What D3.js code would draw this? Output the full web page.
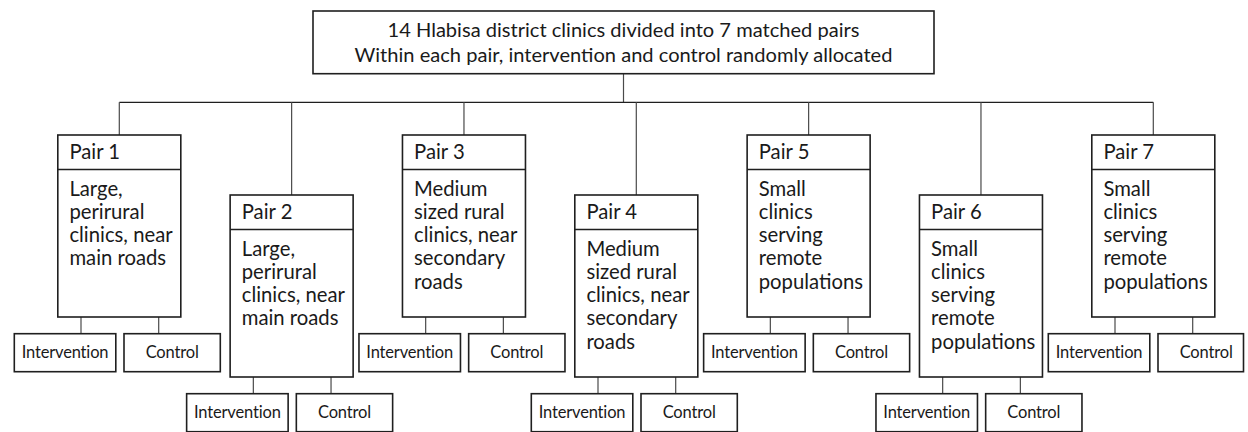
<!DOCTYPE html>
<html>
<head>
<meta charset="utf-8">
<script src="https://cdn.jsdelivr.net/npm/d3@7"></script>
<style>
  html, body { margin: 0; padding: 0; background: #fff; }
  svg { display: block; }
  text { font-family: Lato, "Liberation Sans", sans-serif; fill: #1a1a1a; }
</style>
</head>
<body>
<svg id="chart" width="1248" height="432"></svg>
<script>
// ---- data ----
const titleLines = [
  "14 Hlabisa district clinics divided into 7 matched pairs",
  "Within each pair, intervention and control randomly allocated"
];
const pairs = ["Pair 1", "Pair 2", "Pair 3", "Pair 4", "Pair 5", "Pair 6", "Pair 7"];
const descriptions = [
  ["Large,", "perirural", "clinics, near", "main roads"],
  ["Large,", "perirural", "clinics, near", "main roads"],
  ["Medium", "sized rural", "clinics, near", "secondary", "roads"],
  ["Medium", "sized rural", "clinics, near", "secondary", "roads"],
  ["Small", "clinics", "serving", "remote", "populations"],
  ["Small", "clinics", "serving", "remote", "populations"],
  ["Small", "clinics", "serving", "remote", "populations"]
];
const tiers = [0, 1, 0, 1, 0, 1, 0];   // staggered rows
const arms = ["Intervention", "Control"];

// ---- layout ----
const W = 1248, H = 432;
const svg = d3.select("#chart");

const x = d3.scaleLinear().domain([0, pairs.length - 1]).range([119.3, 1153.3]);
const yTier = d3.scaleLinear().domain([0, 1]).range([135, 195]);

const root = { x0: 313, x1: 934, y0: 11, y1: 73.7 };
const rootCx = (root.x0 + root.x1) / 2;
const busY = 102.3;

const pairW = 123, headerH = 34.5, pairH = 182;
const childGap = 16.7, childH = 38;
const armBox = [[-105, -3.5], [4.7, 101]];
const armLink = [-38.3, 39.4];

const boxStroke = "#1f1f1f", boxSW = 1.6;
const lineStroke = "#4a4a4a", lineSW = 1.2;

function measure(sample, size) {
  const t = svg.append("text").attr("font-size", size).text(sample);
  const w = t.node().getComputedTextLength();
  t.remove();
  return w;
}
// size fitted so the sample string matches the reference width
const titleSize = 20 * 472 / measure(titleLines[0], 20);
const bodySize = 18 * 103.3 / measure("clinics, near", 18);
const armSize = 16.5;
const armLS = (87 - measure("Intervention", armSize)) / "Intervention".length;

const gLines = svg.append("g");
const gBoxes = svg.append("g");

// root box
gBoxes.append("rect")
  .attr("x", root.x0).attr("y", root.y0)
  .attr("width", root.x1 - root.x0).attr("height", root.y1 - root.y0)
  .attr("fill", "#fff").attr("stroke", boxStroke).attr("stroke-width", boxSW);
gBoxes.selectAll("text.title").data(titleLines).join("text")
  .attr("class", "title")
  .attr("x", rootCx).attr("y", (d, i) => 36.7 + i * 25)
  .attr("text-anchor", "middle").attr("font-size", titleSize)
  .text(d => d);

// root -> bus
gLines.append("line")
  .attr("x1", rootCx).attr("x2", rootCx).attr("y1", root.y1).attr("y2", busY)
  .attr("stroke", lineStroke).attr("stroke-width", lineSW);
gLines.append("line")
  .attr("x1", x(0)).attr("x2", x(pairs.length - 1)).attr("y1", busY).attr("y2", busY)
  .attr("stroke", boxStroke).attr("stroke-width", lineSW);

pairs.forEach((p, i) => {
  const cx = x(i);
  const top = yTier(tiers[i]);
  const left = cx - pairW / 2;
  // bus -> pair
  gLines.append("line")
    .attr("x1", cx).attr("x2", cx).attr("y1", busY).attr("y2", top)
    .attr("stroke", lineStroke).attr("stroke-width", lineSW);
  // pair box
  gBoxes.append("rect")
    .attr("x", left).attr("y", top).attr("width", pairW).attr("height", pairH)
    .attr("fill", "#fff").attr("stroke", boxStroke).attr("stroke-width", boxSW);
  gBoxes.append("line")
    .attr("x1", left).attr("x2", left + pairW)
    .attr("y1", top + headerH).attr("y2", top + headerH)
    .attr("stroke", boxStroke).attr("stroke-width", boxSW);
  gBoxes.append("text")
    .attr("x", left + 11.6).attr("y", top + 23.5)
    .attr("font-size", bodySize).text(p);
  gBoxes.append("g").selectAll("text").data(descriptions[i]).join("text")
    .attr("x", left + 11.6).attr("y", (d, k) => top + headerH + 26 + k * 23.3)
    .attr("font-size", bodySize).text(d => d);

  // children
  const cTop = top + pairH + childGap;
  arms.forEach((a, j) => {
    const lx = cx + armLink[j];
    gLines.append("line")
      .attr("x1", lx).attr("x2", lx).attr("y1", top + pairH).attr("y2", cTop)
      .attr("stroke", lineStroke).attr("stroke-width", lineSW);
    const bx0 = cx + armBox[j][0];
    const bx1full = cx + armBox[j][1];
    const bx1 = Math.min(bx1full, W - 4.5);
    gBoxes.append("rect")
      .attr("x", bx0).attr("y", cTop).attr("width", bx1 - bx0).attr("height", childH)
      .attr("fill", "#fff").attr("stroke", boxStroke).attr("stroke-width", boxSW);
    gBoxes.append("text")
      .attr("x", (bx0 + bx1full) / 2).attr("y", cTop + 24.5)
      .attr("text-anchor", "middle").attr("font-size", armSize)
      .attr("letter-spacing", armLS).text(a);
  });
});
</script>
</body>
</html>
